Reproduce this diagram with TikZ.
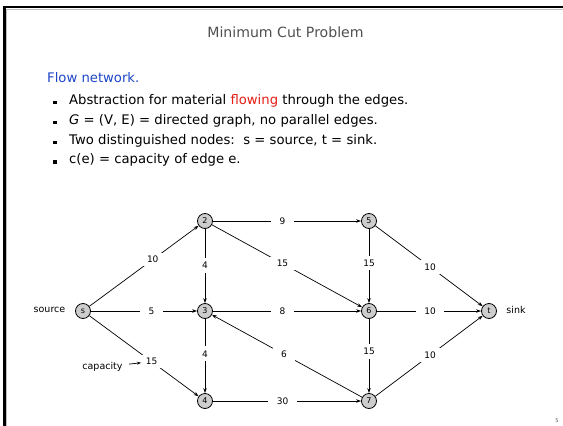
\documentclass[tikz,border=0pt]{standalone}
\usepackage{fontspec}
\setmainfont{DejaVu Sans}
\usetikzlibrary{arrows.meta}
\definecolor{titlegray}{RGB}{80,80,80}
\definecolor{flowblue}{RGB}{30,70,200}
\definecolor{flowred}{RGB}{230,30,20}
\definecolor{nodegray}{RGB}{205,205,205}
\tikzset{
  vert/.style={circle,draw=black,fill=nodegray,line width=0.8pt,minimum size=15pt,inner sep=0pt,font=\fontsize{8}{9}\selectfont},
  edge/.style={line width=0.7pt,-{Stealth[length=5pt,width=3.5pt]}},
  lbl/.style={fill=white,inner xsep=8.5pt,inner ysep=3.5pt,font=\fontsize{9}{10}\selectfont},
  vlbl/.style={lbl,inner xsep=3pt,inner ysep=4pt},
  side/.style={font=\fontsize{9.5}{10}\selectfont},
  bodytext/.style={anchor=west,inner sep=0pt,text height=9.5pt,text depth=3pt,font=\fontsize{13.2}{14}\selectfont},
  bul/.style={fill=black,minimum size=3.4pt,inner sep=0pt}
}
\begin{document}
\begin{tikzpicture}[x=1pt,y=-1pt]
\useasboundingbox (0,0) rectangle (563,426);
\fill[white] (0,0) rectangle (563,426);
% frame
\draw[gray!50,line width=1pt] (6.5,426) -- (6.5,9.3) -- (563,9.3);
\draw[black,line width=2.4pt] (4.5,426) -- (4.5,7) -- (563,7);
% title
\node[font=\fontsize{14.1}{16}\selectfont,text=titlegray] (title) at (285.5,32) {Minimum Cut Problem};
% body
\node[bodytext,text=flowblue] (head) at (47,79.3) {Flow network.};
\node[bul] (b1) at (55,102.6) {};
\node[bul] (b2) at (55,122.6) {};
\node[bul] (b3) at (55,142.6) {};
\node[bul] (b4) at (55,162) {};
\node[bodytext] (t1) at (69,101) {Abstraction for material \textcolor{flowred}{flowing} through the edges.};
\node[bodytext] (t2) at (69,121) {\textit{G} = (V, E) = directed graph, no parallel edges.};
\node[bodytext] (t3) at (69,141) {Two distinguished nodes:\ \ s = source, t = sink.};
\node[bodytext] (t4) at (69,160.4) {c(e) = capacity of edge e.};
% vertices
\node[vert] (s) at (83,311) {s};
\node[vert] (n2) at (205,221) {2};
\node[vert] (n3) at (205,311) {3};
\node[vert] (n4) at (205,401) {4};
\node[vert] (n5) at (369,221) {5};
\node[vert] (n6) at (369,311) {6};
\node[vert] (n7) at (369,401) {7};
\node[vert] (t) at (489,311) {t};
% edges
\draw[edge] (s) -- node[lbl,pos=0.58] {10} (n2);
\draw[edge] (s) -- node[lbl,pos=0.57] {5} (n3);
\draw[edge] (s) -- node[lbl,pos=0.57] (c15) {15} (n4);
\draw[edge] (n2) -- node[vlbl,pos=0.49] {4} (n3);
\draw[edge] (n2) -- node[lbl,pos=0.47] {9} (n5);
\draw[edge] (n2) -- node[lbl,pos=0.47] {15} (n6);
\draw[edge] (n3) -- node[vlbl,pos=0.47] {4} (n4);
\draw[edge] (n3) -- node[lbl,pos=0.47] {8} (n6);
\draw[edge] (n4) -- node[lbl,pos=0.47] {30} (n7);
\draw[edge] (n7) -- node[lbl,pos=0.52] {6} (n3);
\draw[edge] (n5) -- node[vlbl,pos=0.46] {15} (n6);
\draw[edge] (n6) -- node[vlbl,pos=0.44] {15} (n7);
\draw[edge] (n5) -- node[lbl,pos=0.51] {10} (t);
\draw[edge] (n6) -- node[lbl,pos=0.51] {10} (t);
\draw[edge] (n7) -- node[lbl,pos=0.51] {10} (t);
% side labels
\node[side] (src) at (49.5,310) {source};
\node[side] (snk) at (516,310) {sink};
\node[side] (cap) at (102.5,367) {capacity};
\draw[line width=0.7pt,-{Stealth[length=4pt,width=3pt]},shorten <=3pt,shorten >=-4pt] (cap) -- (c15);
% page number
\node[font=\fontsize{5}{6}\selectfont,text=titlegray] (pg) at (557,421) {5};
\end{tikzpicture}
\end{document}
